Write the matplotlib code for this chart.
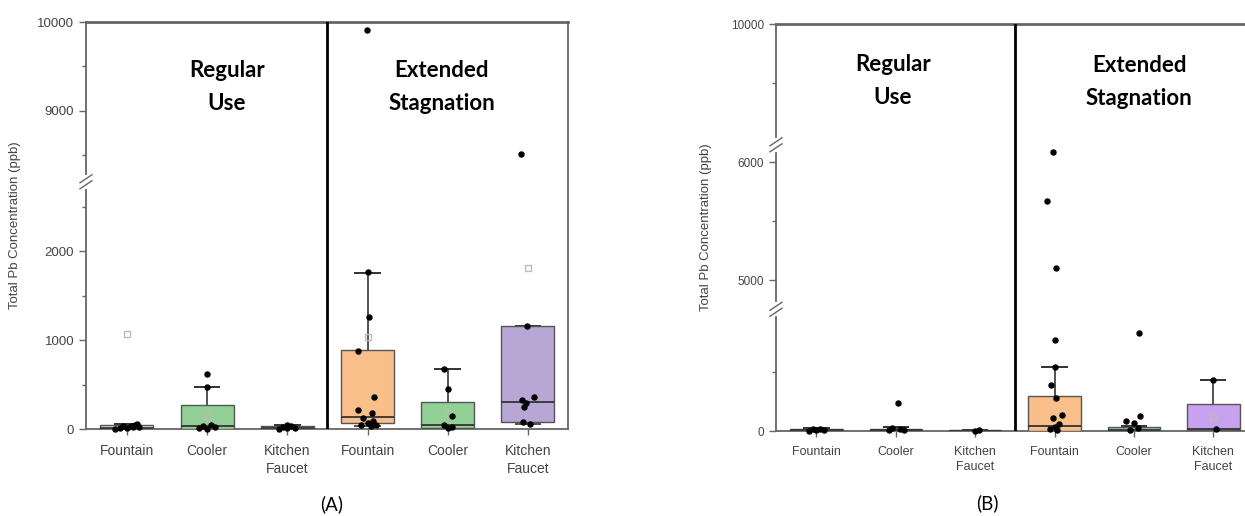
import numpy as np
import matplotlib
matplotlib.use("Agg")
import matplotlib.pyplot as plt

# ---------------- data ----------------
categories = ["Fountain", "Cooler", "Kitchen\nFaucet", "Fountain", "Cooler", "Kitchen\nFaucet"]

# Panel A (Regular Use x3, Extended Stagnation x3)
A_q1 = [0, 5, 0, 65, 10, 75]
A_med = [15, 30, 10, 135, 45, 300]
A_q3 = [40, 265, 30, 890, 300, 1155]
A_wlo = [0, 0, 0, 30, 0, 60]
A_whi = [60, 470, 50, 1750, 680, 1155]
A_mean = [1070, 145, 20, 1040, 180, 1811]
A_pts = [
    [5, 10, 15, 20, 25, 30, 35, 45, 60],
    [620, 470, 40, 30, 20, 10, 5],
    [5, 10, 15, 25, 35, 50],
    [9910, 1760, 1255, 880, 365, 210, 175, 120, 90, 70, 50, 40, 30],
    [680, 445, 145, 40, 20, 10],
    [8520, 1160, 365, 330, 290, 245, 75, 60],
]
A_jit = [
    [-0.15, -0.08, 0.0, 0.08, 0.15, -0.05, 0.05, 0.1, 0.12],
    [0.0, 0.0, 0.05, -0.05, 0.1, -0.1, 0.0],
    [-0.1, 0.0, 0.1, -0.05, 0.05, 0.0],
    [-0.01, 0.01, 0.02, -0.12, 0.08, -0.12, 0.05, -0.05, 0.07, 0.0, -0.08, 0.1, 0.04],
    [-0.05, 0.0, 0.05, -0.05, 0.05, 0.0],
    [-0.09, -0.01, 0.07, -0.07, -0.02, -0.05, -0.06, 0.02],
]
A_segments = [(0, 2780), (8205, 10000)]

# Panel B
B_q1 = [0, 0, 0, 0, 0, 5]
B_med = [5, 5, 3, 43, 10, 15]
B_q3 = [15, 20, 8, 300, 30, 230]
B_wlo = [0, 0, 0, 0, 0, 0]
B_whi = [25, 30, 12, 547, 40, 436]
B_mean = [None, None, None, None, None, 120]
B_pts = [
    [3, 6, 10, 15, 20],
    [240, 25, 15, 10, 5],
    [3, 8],
    [6090, 5670, 5100, 770, 547, 393, 282, 137, 111, 60, 30, 15, 5],
    [830, 128, 85, 68, 25, 10],
    [436, 15],
]
B_jit = [
    [-0.1, 0.0, 0.1, -0.05, 0.05],
    [0.03, -0.05, 0.05, 0.1, -0.08],
    [0.0, 0.05],
    [-0.02, -0.09, 0.02, 0.01, 0.0, -0.05, 0.02, 0.09, -0.02, 0.05, 0.0, -0.06, 0.03],
    [0.06, 0.08, -0.1, 0.0, 0.05, -0.05],
    [0.0, 0.03],
]
B_segments = [(0, 1034), (4754, 6150), (8975, 10000)]

colors_A = ["#e9e4e0", "#93d096", "#e9e4e0", "#f9bf8b", "#93d096", "#b8a6d4"]
colors_B = ["#e9e4e0", "#93d096", "#e9e4e0", "#f9bf8b", "#93d096", "#c8a2f0"]

GRAY = "#666666"
TXT = "#444444"
W, H = 1245.0, 516.0


def broken_scale(segments):
    xs = [-1e6]
    ys = [-1e6]
    acc = 0.0
    for i, (lo, hi) in enumerate(segments):
        if i == 0:
            xs.append(lo); ys.append(lo); acc = lo
        else:
            xs.append(lo); acc += 1.0; ys.append(acc)
        acc += hi - lo
        xs.append(hi); ys.append(acc)
    xs.append(1e6); ys.append(acc + (1e6 - segments[-1][1]))
    xs = np.array(xs); ys = np.array(ys)
    fwd = lambda v: np.interp(v, xs, ys)
    inv = lambda v: np.interp(v, ys, xs)
    return fwd, inv


def draw_panel(ax, q1, med, q3, wlo, whi, mean, pts, jit, cols, segments,
               majors, minors, label_fs, xl_fs):
    fwd, inv = broken_scale(segments)
    ax.set_yscale("function", functions=(fwd, inv))
    pos = np.arange(1, 7)
    w = 0.66
    cw = 0.33
    for i, p in enumerate(pos):
        ax.vlines(p, q3[i], whi[i], color="#222222", lw=1.1, zorder=2)
        ax.vlines(p, wlo[i], q1[i], color="#222222", lw=1.1, zorder=2)
        ax.hlines([whi[i]], p - cw / 2, p + cw / 2, color="#222222", lw=1.3, zorder=2)
        ax.hlines([wlo[i]], p - cw / 2, p + cw / 2, color="#222222", lw=1.1, zorder=2)
        ax.bar(p, q3[i] - q1[i], bottom=q1[i], width=w, color=cols[i],
               edgecolor="#555555", lw=1.0, zorder=3)
        ax.hlines(med[i], p - w / 2, p + w / 2, color="#333333", lw=1.3, zorder=4)
        if mean[i] is not None:
            ax.plot(p, mean[i], marker="s", ms=4, mfc="none", mec="#bbbbbb",
                    mew=1.0, zorder=5)
        ax.plot(p + np.array(jit[i]), pts[i], "o", color="black", ms=3.6,
                zorder=6, clip_on=False)
    ax.set_xlim(0.49, 6.5)
    ax.set_ylim(segments[0][0], segments[-1][1])
    ax.set_xticks(pos)
    ax.set_xticklabels(categories, fontsize=xl_fs, color=TXT,
                       family="Liberation Sans", linespacing=1.35)
    ax.set_yticks(majors)
    ax.set_yticklabels([str(m) for m in majors], fontsize=label_fs, color=TXT,
                       family="Liberation Sans")
    ax.set_yticks(minors, minor=True)
    ax.tick_params(axis="y", which="major", length=5, width=1, color=GRAY, direction="out")
    ax.tick_params(axis="y", which="minor", length=3, width=1, color=GRAY, direction="out")
    ax.tick_params(axis="x", which="major", length=4, width=1, color=GRAY,
                   direction="out", pad=7)
    ax.tick_params(axis="x", which="minor", length=0)
    for s in ax.spines.values():
        s.set_color(GRAY)
        s.set_linewidth(1.3)
    ax.spines["top"].set_linewidth(2.0)
    ax.axvline(3.5, color="black", lw=2, zorder=7)
    ax.set_ylabel("Total Pb Concentration (ppb)", fontsize=9.5, color=TXT,
                  family="Liberation Sans")


plt.rcParams["font.family"] = ["Liberation Sans", "DejaVu Sans"]
fig = plt.figure(figsize=(12.45, 5.16), dpi=100)

axA = fig.add_axes([86 / W, 1 - 429 / H, (568 - 86) / W, (429 - 22) / H])
axB = fig.add_axes([776 / W, 1 - 431 / H, (1253 - 776) / W, (431 - 24) / H])

draw_panel(axA, A_q1, A_med, A_q3, A_wlo, A_whi, A_mean, A_pts, A_jit, colors_A,
           A_segments, [0, 1000, 2000, 9000, 10000], [500, 1500, 2500, 8500, 9500],
           9.5, 10)
draw_panel(axB, B_q1, B_med, B_q3, B_wlo, B_whi, B_mean, B_pts, B_jit, colors_B,
           B_segments, [0, 5000, 6000, 10000], [500, 5500, 9500], 8.5, 9)


def draw_breaks(ax, ys_pix):
    x0 = ax.get_position().x0 * W
    for yp in ys_pix:
        fig.add_artist(plt.Line2D([x0 / W, x0 / W], [1 - (yp + 5) / H, 1 - (yp - 5) / H],
                                  color="white", lw=3, zorder=5))
        for off in (-3, 3):
            fig.add_artist(plt.Line2D([(x0 - 6) / W, (x0 + 6) / W],
                                      [1 - (yp + off + 4) / H, 1 - (yp + off - 4) / H],
                                      color=GRAY, lw=1.0, zorder=6))


def data_to_pix(ax, y):
    disp = ax.transData.transform((1, y))
    return H - disp[1]


fig.canvas.draw()
draw_breaks(axA, [data_to_pix(axA, A_segments[0][1])])
draw_breaks(axB, [data_to_pix(axB, B_segments[0][1]), data_to_pix(axB, B_segments[1][1])])

axA.yaxis.set_label_coords(-0.135, 0.5)
axB.yaxis.set_label_coords(-0.135, 0.5)

bold = dict(fontsize=16, fontweight="bold", family="Lato", ha="center", va="center",
            linespacing=1.75)
fig.text(227 / W, 1 - 87 / H, "Regular\nUse", **bold)
fig.text(442 / W, 1 - 87 / H, "Extended\nStagnation", **bold)
fig.text(893 / W, 1 - 81 / H, "Regular\nUse", **bold)
fig.text(1139 / W, 1 - 82 / H, "Extended\nStagnation", **bold)

fig.text(332 / W, 1 - 504 / H, "(A)", fontsize=13.5, family="Lato", ha="center", va="center")
fig.text(987 / W, 1 - 503 / H, "(B)", fontsize=13.5, family="Lato", ha="center", va="center")

fig.savefig("out.png", dpi=100)
